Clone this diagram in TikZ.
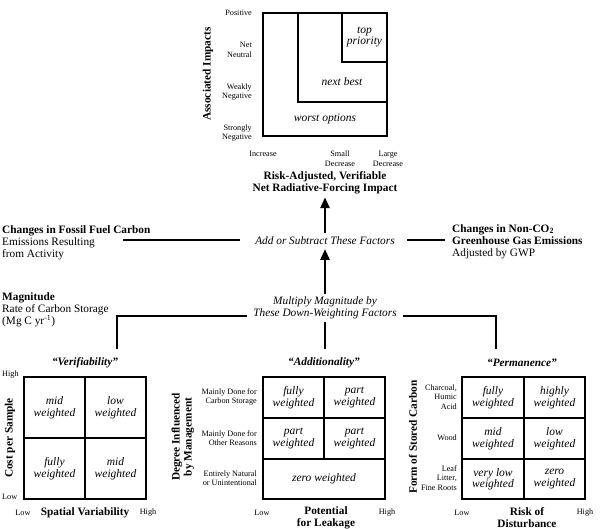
\documentclass[tikz,border=0pt]{standalone}
\usepackage{fontspec}
\setmainfont{Liberation Serif}
\usetikzlibrary{arrows.meta}
\begin{document}
\begin{tikzpicture}[x=1pt,y=-1pt,
  maintext/.style={font=\fontsize{11.3}{12}\selectfont, inner sep=0pt},
  boldtext/.style={font=\fontsize{11.3}{12}\selectfont\bfseries, inner sep=0pt, align=center},
  smalltext/.style={font=\fontsize{8.2}{9.5}\selectfont, inner sep=0pt, align=right},
  celltext/.style={font=\fontsize{11.5}{11.5}\selectfont\itshape, inner sep=0pt, align=center},
  gridtitle/.style={font=\fontsize{11.3}{12}\selectfont\bfseries\itshape, inner sep=0pt},
  thickbox/.style={line width=2.6pt},
  thinline/.style={line width=1.3pt},
  conn/.style={line width=2.3pt},
  uparrow/.style={line width=2.6pt, -{Triangle[length=11pt,width=9pt]}}]
\useasboundingbox (0,0) rectangle (600,529);
\fill[white] (0,0) rectangle (600,529);

% ---------- top chart ----------
\draw[thinline] (298,13) -- (298,102) -- (387,102);
\draw[thinline] (342,13) -- (342,62) -- (387,62);
\draw[thickbox] (263,13) rectangle (387,136);
\node[celltext] (tp) at (364.5,37) {top\\priority};
\node[celltext] (nb) at (342,82) {next best};
\node[celltext] (wo) at (325,119) {worst options};
\node[smalltext, anchor=east] (pos) at (252,13) {Positive};
\node[smalltext, anchor=east] (neu) at (252,50) {Net\\Neutral};
\node[smalltext, anchor=east] (wneg) at (252,92) {Weakly\\Negative};
\node[smalltext, anchor=east] (sneg) at (252,133) {Strongly\\Negative};
\node[boldtext, rotate=90] (ai) at (208,74) {Associated Impacts};
\node[smalltext, align=center, anchor=north] (inc) at (263,151) {Increase};
\node[smalltext, align=center, anchor=north] (sd) at (340,151) {Small\\Decrease};
\node[smalltext, align=center, anchor=north] (ld) at (388,151) {Large\\Decrease};
\node[boldtext, outer sep=3pt] (title) at (325,183) {Risk-Adjusted, Verifiable\\Net Radiative-Forcing Impact};

% ---------- middle ----------
\node[maintext, font=\fontsize{11.3}{12}\selectfont\itshape, outer sep=4pt] (addf) at (325,241) {Add or Subtract These Factors};
\node[maintext, align=left, anchor=north west] (fossil) at (2,225) {\textbf{Changes in Fossil Fuel Carbon}\\Emissions Resulting\\from Activity};
\node[maintext, align=left, anchor=north west] (nonco) at (452,224) {\textbf{Changes in Non-CO\textsubscript{2}}\\\textbf{Greenhouse Gas Emissions}\\Adjusted by GWP};
\node[maintext, align=center, font=\fontsize{11.3}{12}\selectfont\itshape, outer sep=3pt] (mult) at (325,308) {Multiply Magnitude by\\These Down-Weighting Factors};
\node[maintext, align=left, anchor=north west] (magn) at (2,292) {\textbf{Magnitude}\\Rate of Carbon Storage\\(Mg C yr\textsuperscript{-1})};

\coordinate (fossilEnd) at (123,240);
\coordinate (addL) at (240,240);
\coordinate (addR) at (407,240);
\coordinate (noncoEnd) at (445,240);
\draw[conn] (fossilEnd) -- (addL);
\draw[conn] (addR) -- (noncoEnd);
\draw[uparrow] (addf) -- (title);
\draw[uparrow] (mult) -- (addf);

\coordinate (mL) at (247,316);
\coordinate (mR) at (403,316);
\coordinate (dropL) at (117,349);
\coordinate (dropM) at (325,349);
\coordinate (dropR) at (496,349);
\draw[conn] (mL) -| (dropL);
\draw[conn] (mR) -| (dropR);
\draw[conn] (mult.south) -- (dropM);

% ---------- grid 1: Verifiability ----------
\node[gridtitle] (verif) at (85,363) {“Verifiability”};
\draw[thinline] (85,377) -- (85,499) (24,438) -- (146,438);
\draw[thickbox] (24,377) rectangle (146,499);
\node[celltext] at (54.5,407.5) {mid\\weighted};
\node[celltext] at (115.5,407.5) {low\\weighted};
\node[celltext] at (54.5,468.5) {fully\\weighted};
\node[celltext] at (115.5,468.5) {mid\\weighted};
\node[smalltext, anchor=west] (vh) at (2,375) {High};
\node[smalltext, anchor=west] (vl) at (2,497) {Low};
\node[boldtext, rotate=90] (cps) at (10,438) {Cost per Sample};
\node[smalltext] (vlo) at (23,513) {Low};
\node[boldtext] (sv) at (85,513) {Spatial Variability};
\node[smalltext] (vhi) at (148,513) {High};

% ---------- grid 2: Additionality ----------
\node[gridtitle] (addit) at (324,363) {“Additionality”};
\draw[thinline] (324,377) -- (324,459) (263,418) -- (385,418) (263,459) -- (385,459);
\draw[thickbox] (263,377) rectangle (385,499);
\node[celltext] at (293.5,397.5) {fully\\weighted};
\node[celltext] at (354.5,397.5) {part\\weighted};
\node[celltext] at (293.5,438.5) {part\\weighted};
\node[celltext] at (354.5,438.5) {part\\weighted};
\node[celltext] at (324,479) {zero weighted};
\node[smalltext, anchor=east] (r1) at (257,397) {Mainly Done for\\Carbon Storage};
\node[smalltext, anchor=east] (r2) at (257,438) {Mainly Done for\\Other Reasons};
\node[smalltext, anchor=east] (r3) at (257,478) {Entirely Natural\\or Unintentional};
\node[boldtext, rotate=90] (dim) at (183,437) {Degree Influenced\\by Management};
\node[smalltext] (alo) at (262,513) {Low};
\node[boldtext] (pfl) at (326,518) {Potential\\for Leakage};
\node[smalltext] (ahi) at (387,513) {High};

% ---------- grid 3: Permanence ----------
\node[gridtitle] (perm) at (522,363) {“Permanence”};
\draw[thinline] (524,377) -- (524,499) (462,418) -- (585,418) (462,459) -- (585,459);
\draw[thickbox] (462,377) rectangle (585,499);
\node[celltext] at (493,397.5) {fully\\weighted};
\node[celltext] at (554.5,397.5) {highly\\weighted};
\node[celltext] at (493,438.5) {mid\\weighted};
\node[celltext] at (554.5,438.5) {low\\weighted};
\node[celltext] at (493,479) {very low\\weighted};
\node[celltext] at (554.5,479) {zero\\weighted};
\node[smalltext, anchor=east] (c1) at (457,397) {Charcoal,\\Humic\\Acid};
\node[smalltext, anchor=east] (c2) at (457,438) {Wood};
\node[smalltext, anchor=east] (c3) at (457,478) {Leaf\\Litter,\\Fine Roots};
\node[boldtext, rotate=90] (fsc) at (413,437) {Form of Stored Carbon};
\node[smalltext] (plo) at (462,513) {Low};
\node[boldtext] (rod) at (527,518) {Risk of\\Disturbance};
\node[smalltext] (phi) at (585,513) {High};
\end{tikzpicture}
\end{document}
